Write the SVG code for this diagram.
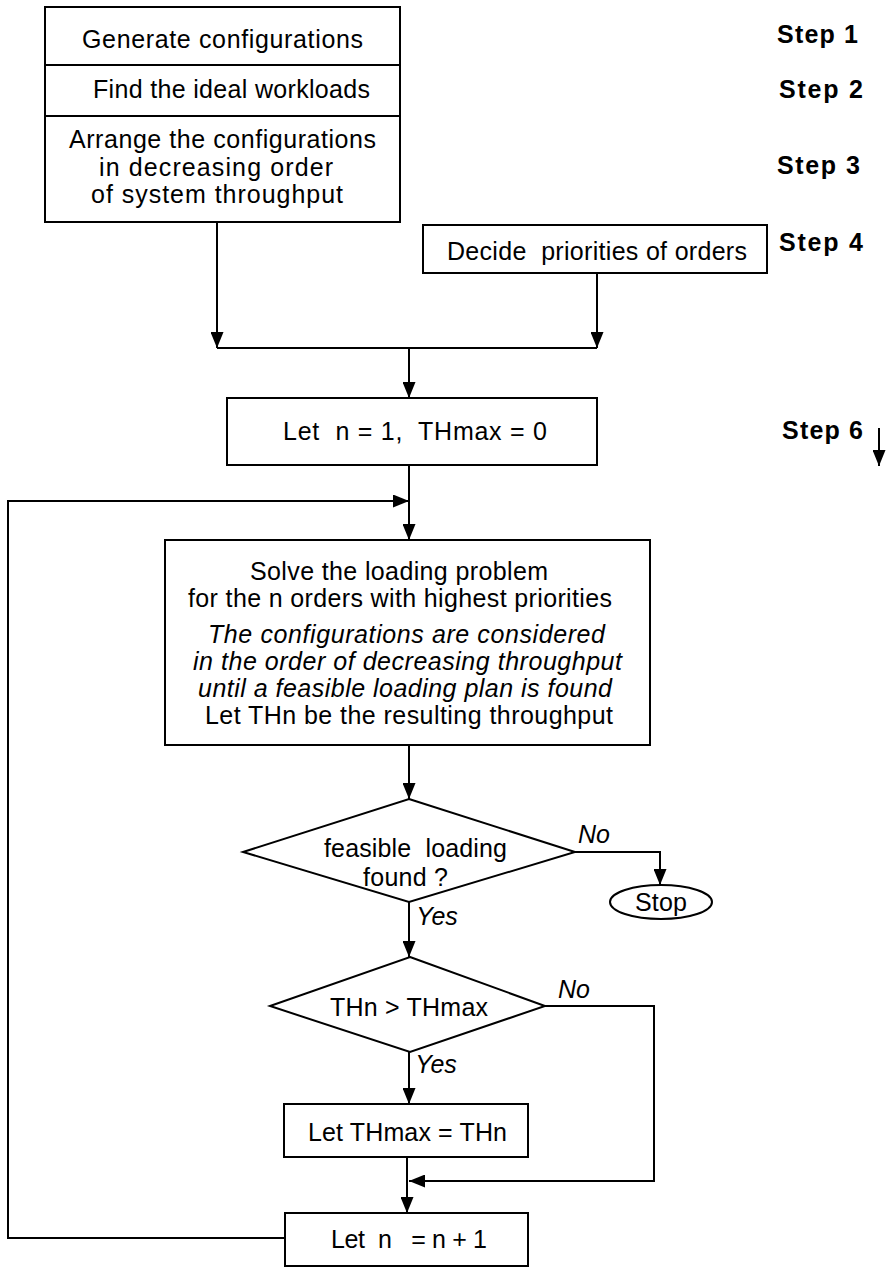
<svg xmlns="http://www.w3.org/2000/svg" width="891" height="1269" viewBox="0 0 891 1269">
<style>
.box{fill:#fff;stroke:#000;stroke-width:2}
.ln{fill:none;stroke:#000;stroke-width:2}
.t{font-family:"Liberation Sans",Arial,sans-serif;font-size:25px;fill:#000;text-anchor:middle;white-space:pre}
.i{font-style:italic}
.b{font-weight:bold;text-anchor:start}
</style>
<defs>
<marker id="ah" markerUnits="userSpaceOnUse" markerWidth="16" markerHeight="13" viewBox="0 0 16 13" refX="16" refY="6.5" orient="auto">
<path d="M0,0 L16,6.5 L0,13 z" fill="#000"/>
</marker>
</defs>
<rect width="891" height="1269" fill="#fff"/>
<g id="connectors">
<path class="ln" d="M217,222 V348" marker-end="url(#ah)"/>
<path class="ln" d="M597,273 V348" marker-end="url(#ah)"/>
<path class="ln" d="M217,348 H597"/>
<path class="ln" d="M409,348 V398" marker-end="url(#ah)"/>
<path class="ln" d="M409,465 V540" marker-end="url(#ah)"/>
<path class="ln" d="M285,1238 H8 V501 H409" marker-end="url(#ah)"/>
<path class="ln" d="M409,745 V799" marker-end="url(#ah)"/>
<path class="ln" d="M575,852 H660 V885" marker-end="url(#ah)"/>
<path class="ln" d="M409,902 V957" marker-end="url(#ah)"/>
<path class="ln" d="M409,1052 V1104" marker-end="url(#ah)"/>
<path class="ln" d="M545,1006 H654 V1181 H409" marker-end="url(#ah)"/>
<path class="ln" d="M407,1157 V1213" marker-end="url(#ah)"/>
<path class="ln" d="M879,428 V466" marker-end="url(#ah)"/>
</g>
<g id="prep">
<rect class="box" x="45" y="7" width="355" height="215"/>
<path class="ln" d="M45,65 H400 M45,116 H400"/>
<text class="t" x="222.5" y="48" textLength="281" lengthAdjust="spacing">Generate configurations</text>
<text class="t" x="231.5" y="98" textLength="277" lengthAdjust="spacing">Find the ideal workloads</text>
<text class="t" x="222.5" y="148" textLength="307" lengthAdjust="spacing">Arrange the configurations</text>
<text class="t" x="216" y="176" textLength="234" lengthAdjust="spacing">in decreasing order</text>
<text class="t" x="217" y="203" textLength="252" lengthAdjust="spacing">of system throughput</text>
</g>
<g id="steps">
<text class="t b" x="777" y="43" textLength="81" lengthAdjust="spacing">Step 1</text>
<text class="t b" x="779" y="98" textLength="84" lengthAdjust="spacing">Step 2</text>
<text class="t b" x="777" y="174" textLength="83" lengthAdjust="spacing">Step 3</text>
<text class="t b" x="779" y="251" textLength="84" lengthAdjust="spacing">Step 4</text>
<text class="t b" x="782" y="439" textLength="81" lengthAdjust="spacing">Step 6</text>
</g>
<g id="decide">
<rect class="box" x="423" y="225" width="344" height="48"/>
<text class="t" x="597" y="260" textLength="300" lengthAdjust="spacing">Decide  priorities of orders</text>
</g>
<g id="init">
<rect class="box" x="227" y="398" width="370" height="67"/>
<text class="t" x="415" y="440" textLength="264" lengthAdjust="spacing">Let  n = 1,  THmax = 0</text>
</g>
<g id="solve">
<rect class="box" x="165" y="540" width="485" height="205"/>
<text class="t" x="399" y="580" textLength="298" lengthAdjust="spacing">Solve the loading problem</text>
<text class="t" x="400" y="607" textLength="424" lengthAdjust="spacing">for the n orders with highest priorities</text>
<text class="t i" x="406.5" y="643" textLength="397" lengthAdjust="spacing">The configurations are considered</text>
<text class="t i" x="407.5" y="670" textLength="429" lengthAdjust="spacing">in the order of decreasing throughput</text>
<text class="t i" x="405" y="697" textLength="414" lengthAdjust="spacing">until a feasible loading plan is found</text>
<text class="t" x="409" y="724" textLength="408" lengthAdjust="spacing">Let THn be the resulting throughput</text>
</g>
<g id="feasible">
<polygon class="box" points="409,799 575,852 409,902 243,852"/>
<text class="t" x="415.5" y="857" textLength="183" lengthAdjust="spacing">feasible  loading</text>
<text class="t" x="405.5" y="886" textLength="85" lengthAdjust="spacing">found ?</text>
<text class="t i" x="594" y="843">No</text>
<text class="t i" x="437" y="925">Yes</text>
</g>
<g id="stop">
<ellipse class="box" cx="661" cy="902" rx="51" ry="17"/>
<text class="t" x="661" y="911" textLength="52" lengthAdjust="spacing">Stop</text>
</g>
<g id="compare">
<polygon class="box" points="410,957 545,1006 410,1052 270,1006"/>
<text class="t" x="409" y="1016" textLength="158" lengthAdjust="spacing">THn &gt; THmax</text>
<text class="t i" x="574" y="998">No</text>
<text class="t i" x="436" y="1073">Yes</text>
</g>
<g id="update">
<rect class="box" x="284" y="1104" width="244" height="53"/>
<text class="t" x="407.5" y="1141" textLength="199" lengthAdjust="spacing">Let THmax = THn</text>
</g>
<g id="increment">
<rect class="box" x="285" y="1213" width="243" height="53"/>
<text class="t" x="409" y="1248" textLength="156" lengthAdjust="spacing">Let  n   = n + 1</text>
</g>
</svg>
